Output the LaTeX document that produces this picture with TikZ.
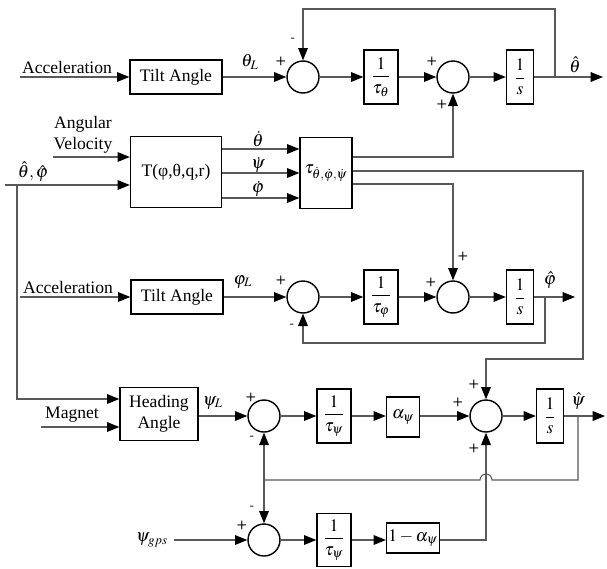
\documentclass[tikz,border=0pt]{standalone}
\usepackage{mathptmx}
\usepackage{amsmath}
\usepackage{fontspec}
\setmainfont{Liberation Serif}
\usetikzlibrary{arrows.meta}

\tikzset{
  blk/.style={draw, line width=0.8pt, inner sep=1pt, align=center},
  sum/.style={draw, circle, line width=0.8pt, minimum size=0.64cm, inner sep=0pt},
  wire/.style={draw=black!65, line width=0.6pt},
  sig/.style={wire, -{Triangle[length=7pt,width=5.5pt,black]}},
  sgn/.style={font=\sffamily\bfseries\scriptsize, inner sep=0pt}
}

\begin{document}
\begin{tikzpicture}[x=0.02cm, y=-0.02cm]
      \useasboundingbox (0,0) rectangle (607,568);

      % theta row
      \coordinate (inA) at (20,77);
      \coordinate (brA) at (555,77);
      \coordinate (outA) at (603,77);
      \node (accA) at (67,67) {Acceleration};
      \node[blk, minimum width=1.84cm, minimum height=0.68cm] (tiltA) at (176,77) {Tilt Angle};
      \node[sum] (sA1) at (303,77) {};
      \node[blk, minimum width=0.68cm, minimum height=1.08cm] (fTh) at (381,77) {$\dfrac{1}{\tau_\theta}$};
      \node[sum] (sA2) at (453,77) {};
      \node[blk, minimum width=0.54cm, minimum height=1.08cm] (intA) at (520,77) {$\dfrac{1}{s}$};
      \node (thL) at (250,62) {$\theta_L$};
      \node (thHat) at (575,65) {$\hat\theta$};
      \draw[sig] (inA) -- (tiltA);
      \draw[sig] (tiltA) -- (sA1);
      \draw[sig] (sA1) -- (fTh);
      \draw[sig] (fTh) -- (sA2);
      \draw[sig] (sA2) -- (intA);
      \draw[sig] (intA) -- (outA);
      \draw[sig] (brA) -- (brA |- 0,9) -| (sA1.north);

      % transformation
      \coordinate (inAV) at (53,157);
      \coordinate (inTP) at (5,185);
      \coordinate (brTP) at (17,185);
      \node[align=center] (angv) at (83,135) {Angular\\Velocity};
      \node (thph) at (33,172) {$\hat\theta,\hat\varphi$};
      \node[blk, minimum width=1.82cm, minimum height=1.42cm] (T) at (176,172) {T(φ,θ,q,r)};
      \node[blk, minimum width=1.04cm, minimum height=1.42cm] (tau) at (326,173) {$\tau_{\dot\theta,\dot\varphi,\dot\psi}$};
      \node (dTh) at (258,139) {$\dot\theta$};
      \node (dPs) at (258,165) {$\dot\psi$};
      \node (dPh) at (258,189) {$\dot\varphi$};
      \draw[sig] (inAV) -- (inAV -| T.west);
      \draw[sig] (inTP) -- (inTP -| T.west);
      \foreach \yy in {149,173,198}
        \draw[sig] (T.east |- 0,\yy) -- (tau.west |- 0,\yy);

      % phi row
      \coordinate (inB) at (20,297);
      \coordinate (brB) at (545,297);
      \coordinate (outB) at (575,297);
      \node (accB) at (68,287) {Acceleration};
      \node[blk, minimum width=1.84cm, minimum height=0.68cm] (tiltB) at (177,297) {Tilt Angle};
      \node[sum] (sB1) at (303,297) {};
      \node[blk, minimum width=0.68cm, minimum height=1.08cm] (fPh) at (381,297) {$\dfrac{1}{\tau_\varphi}$};
      \node[sum] (sB2) at (453,297) {};
      \node[blk, minimum width=0.54cm, minimum height=1.08cm] (intB) at (520,297) {$\dfrac{1}{s}$};
      \node (phL) at (243,282) {$\varphi_L$};
      \node (phHat) at (550,280) {$\hat\varphi$};
      \draw[sig] (inB) -- (tiltB);
      \draw[sig] (tiltB) -- (sB1);
      \draw[sig] (sB1) -- (fPh);
      \draw[sig] (fPh) -- (sB2);
      \draw[sig] (sB2) -- (intB);
      \draw[sig] (intB) -- (outB);
      \draw[sig] (brB) -- (brB |- 0,343) -| (sB1.south);

      % psi row
      \coordinate (inM) at (41,427);
      \coordinate (brC) at (578,416);
      \coordinate (outC) at (605,416);
      \coordinate (jn) at (264,480);
      \node (mag) at (72,415) {Magnet};
      \node[blk, minimum width=1.56cm, minimum height=1.06cm] (head) at (159,414) {Heading\\Angle};
      \node[sum] (sC1) at (264,416) {};
      \node[blk, minimum width=0.68cm, minimum height=1.08cm] (fPs1) at (334,416) {$\dfrac{1}{\tau_\psi}$};
      \node[blk, minimum width=0.66cm, minimum height=0.8cm] (alp) at (403,417) {$\alpha_\psi$};
      \node[sum] (sD) at (486,416) {};
      \node[blk, minimum width=0.54cm, minimum height=1.08cm] (intC) at (550,416) {$\dfrac{1}{s}$};
      \node (psL) at (213,403) {$\psi_L$};
      \node (psHat) at (578,401) {$\hat\psi$};
      \draw[sig] (brTP) |- (head.west |- 0,399);
      \draw[sig] (inM) -- (inM -| head.west);
      \draw[sig] (head.east |- sC1) -- (sC1);
      \draw[sig] (sC1) -- (fPs1);
      \draw[sig] (fPs1) -- (fPs1 -| alp.west);
      \draw[sig] (alp.east |- sD) -- (sD);
      \draw[sig] (sD) -- (intC);
      \draw[sig] (intC) -- (outC);

      % gps row
      \node (gps) at (152,540) {$\psi_{gps}$};
      \node[sum] (sC2) at (264,540) {};
      \node[blk, minimum width=0.68cm, minimum height=1.06cm] (fPs2) at (334,540) {$\dfrac{1}{\tau_\psi}$};
      \node[blk, minimum width=1.0cm, minimum height=0.6cm] (om) at (413,538) {$1-\alpha_\psi$};
      \draw[sig] (gps) -- (sC2);
      \draw[sig] (sC2) -- (fPs2);
      \draw[sig] (fPs2) -- (fPs2 -| om.west);
      \draw[sig] (om.east |- 0,540) -| (sD.south);

      % feedback and rate paths
      \draw[wire] (brC) |- (492,480) arc[start angle=0, end angle=180, radius=0.12cm] -- (jn);
      \draw[sig] (jn) -- (sC1.south);
      \draw[sig] (jn) -- (sC2.north);
      \draw[sig] (tau.east |- 0,157) -| (sA2.south);
      \draw[sig] (tau.east |- 0,171) -| (583,359) -| (sD.north);
      \draw[sig] (tau.east |- 0,184) -| (sB2.north);

      % signs
      \foreach \sx/\sy/\ss [count=\i] in {281/61/+, 293/40/-, 432/61/+, 442/104/+,
          281/280/+, 292/326/-, 431/282/+, 463/256/+,
          251/397/+, 252/438/-, 458/402/+, 474/384/+, 474/448/+,
          242/525/+, 252/508/-}
        \node[sgn] (sg\i) at (\sx,\sy) {\ss};
    \end{tikzpicture}
\end{document}
